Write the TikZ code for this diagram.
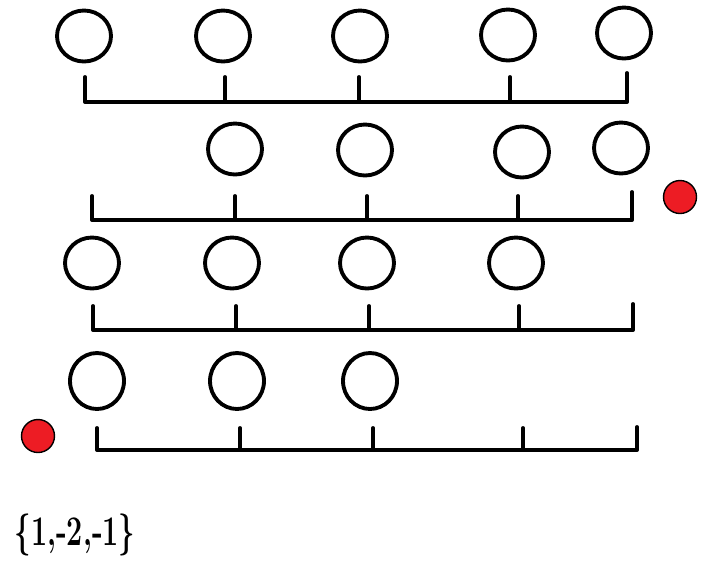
\documentclass[tikz,border=0pt]{standalone}
\usetikzlibrary{shapes.geometric}
\definecolor{dotred}{HTML}{ED1C24}

\begin{document}
\begin{tikzpicture}[x=0.02cm, y=-0.02cm, line width=2.2pt, line cap=round, line join=round]
            \tikzset{
                ball/.style={ellipse, draw, minimum width=1.08cm, minimum height=1.02cm, inner sep=0pt},
                dot/.style={ellipse, fill=dotred, draw, line width=0.8pt, minimum width=0.66cm, minimum height=0.66cm, inner sep=0pt}
            };
            \useasboundingbox (0, 0) rectangle (702, 583);
            % row 1
            \node[ball] (a1) at (84, 36) {};
            \node[ball] (a2) at (223, 36) {};
            \node[ball] (a3) at (360, 36) {};
            \node[ball] (a4) at (508, 35) {};
            \node[ball] (a5) at (624, 33) {};
            \draw (85, 77) -- (85, 102) -- (627, 102) -- (627, 73);
            \foreach \x in {225, 359, 510} \draw (\x, 77) -- (\x, 102);
            % row 2
            \node[ball] (b1) at (235, 149) {};
            \node[ball] (b2) at (365, 150) {};
            \node[ball] (b3) at (522, 152) {};
            \node[ball] (b4) at (621, 148) {};
            \node[dot] (r1) at (680, 197) {};
            \draw (92, 196) -- (92, 220) -- (632, 220) -- (632, 192);
            \foreach \x in {235, 367, 518} \draw (\x, 196) -- (\x, 220);
            % row 3
            \node[ball] (c1) at (92, 263) {};
            \node[ball] (c2) at (232, 263) {};
            \node[ball] (c3) at (367, 263) {};
            \node[ball] (c4) at (516, 263) {};
            \draw (93, 306) -- (93, 330) -- (633, 330) -- (633, 304);
            \foreach \x in {236, 369, 519} \draw (\x, 306) -- (\x, 330);
            % row 4
            \node[ball, minimum height=1.12cm] (d1) at (97, 381) {};
            \node[ball, minimum height=1.12cm] (d2) at (237, 381) {};
            \node[ball, minimum height=1.12cm] (d3) at (370, 381) {};
            \node[dot] (r2) at (38, 436) {};
            \draw (97, 428) -- (97, 450) -- (637, 450) -- (637, 427);
            \foreach \x in {240, 373, 523} \draw (\x, 428) -- (\x, 450);
            % vector
            \node[font=\fontsize{24}{28}\selectfont\bfseries] (v) at (75, 535) {\scalebox{0.68}[1]{\{1,-2,-1\}}};
        \end{tikzpicture}
\end{document}
